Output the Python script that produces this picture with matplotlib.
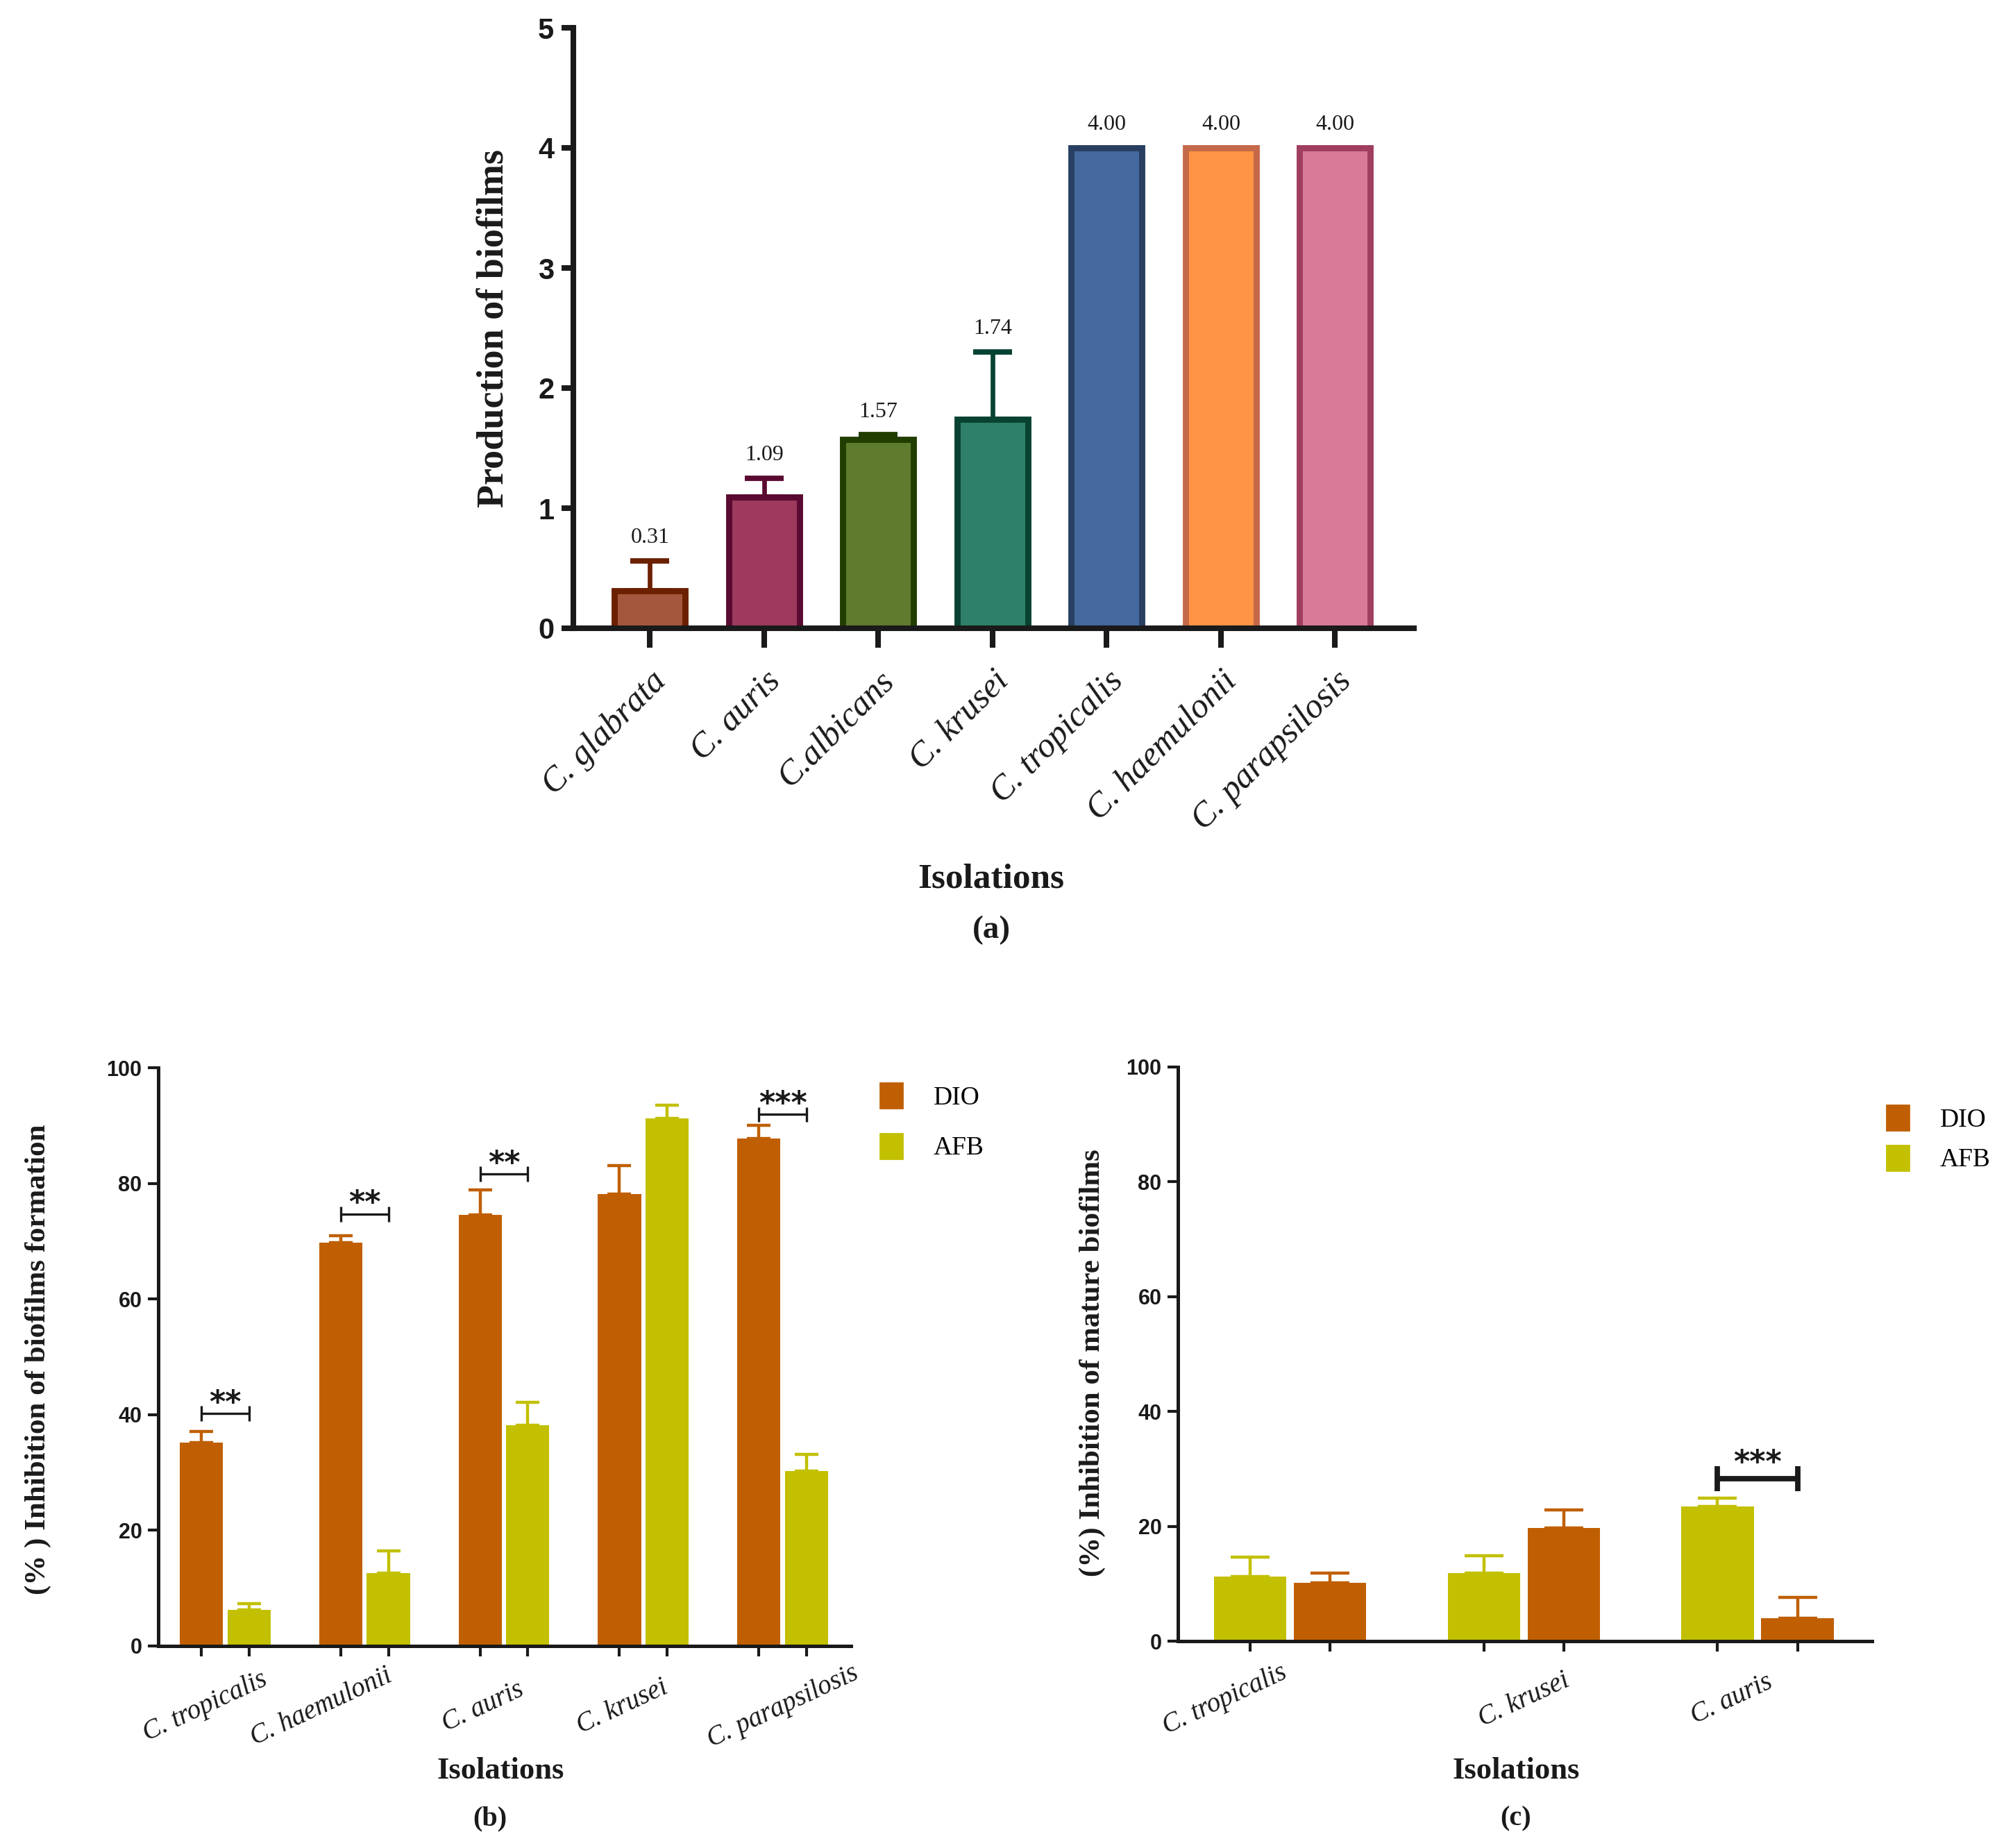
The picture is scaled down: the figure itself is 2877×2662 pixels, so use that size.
import matplotlib
matplotlib.use("Agg")
import matplotlib.pyplot as plt
import numpy as np
from matplotlib.patches import Patch

# ---------------- data ----------------
a_species = ["C. glabrata", "C. auris", "C.albicans", "C. krusei",
             "C. tropicalis", "C. haemulonii", "C. parapsilosis"]
a_values = [0.31, 1.09, 1.57, 1.74, 4.00, 4.00, 4.00]
a_err = [0.25, 0.16, 0.04, 0.56, 0.0, 0.0, 0.0]
a_labels = ["0.31", "1.09", "1.57", "1.74", "4.00", "4.00", "4.00"]
a_face = ["#A5573D", "#9D3A5E", "#5F7B2D", "#2E8068", "#44699E", "#FF9445", "#D97A98"]
a_edge = ["#6B2000", "#5A0A30", "#223D00", "#084232", "#283F62", "#C4694A", "#A03E5F"]

b_species = ["C. tropicalis", "C. haemulonii", "C. auris", "C. krusei", "C. parapsilosis"]
b_dio = [35.2, 69.8, 74.6, 78.2, 87.8]
b_dio_err = [1.9, 1.2, 4.3, 4.9, 2.2]
b_afb = [6.3, 12.6, 38.2, 91.2, 30.2]
b_afb_err = [1.0, 3.9, 3.9, 2.3, 2.9]
b_sig = ["**", "**", "**", "", "***"]
b_sig_y = [40.2, 74.7, 81.6, None, 91.9]

c_species = ["C. tropicalis", "C. krusei", "C. auris"]
c_afb = [11.3, 11.8, 23.5]
c_afb_err = [3.3, 3.1, 1.4]
c_dio = [10.2, 19.7, 4.0]
c_dio_err = [1.7, 3.2, 3.6]
c_sig = ["", "", "***"]
c_sig_y = [None, None, 28.3]

# layout nudges for the rotated category labels (in group units)
b_label_nudge = [-0.145, -0.31, -0.15, -0.15, 0.0]
c_label_nudge = [-0.28, 0.0, -0.11]

DIO_C = "#C05F02"
AFB_C = "#C2C000"
TXT = "#1a1a1a"

SERIF = ["Liberation Serif", "DejaVu Serif"]
NARROW = ["Liberation Sans Narrow", "Liberation Sans", "DejaVu Sans"]

W, H, DPI = 2877, 2662, 200
fig = plt.figure(figsize=(W / DPI, H / DPI), dpi=DPI)


def fx(px):
    return px / W


def fy(py):
    return 1 - py / H


# ---------------- panel (a) ----------------
axa = fig.add_axes([fx(826), fy(905), fx(2037 - 826), (905 - 40) / H])
xa = np.arange(len(a_species))
for i in range(len(a_species)):
    axa.bar(xa[i], a_values[i], width=0.62, color=a_face[i], edgecolor=a_edge[i],
            linewidth=3.2, zorder=2)
    if a_err[i] > 0:
        axa.errorbar(xa[i], a_values[i], yerr=[[0], [a_err[i]]], fmt="none",
                     ecolor=a_edge[i], elinewidth=2.4, capsize=10, capthick=2.8, zorder=3)
    axa.annotate(a_labels[i], (xa[i], a_values[i] + a_err[i]), xytext=(0, 12),
                 textcoords="offset points", ha="center", va="center",
                 fontsize=11.5, family=SERIF, color=TXT)
axa.set_xlim(-0.67, len(a_species) - 1 + 0.69)
axa.set_ylim(0, 5)
axa.spines["top"].set_visible(False)
axa.spines["right"].set_visible(False)
for s in ["left", "bottom"]:
    axa.spines[s].set_linewidth(2.9)
    axa.spines[s].set_color(TXT)
axa.set_xticks(xa)
axa.set_xticklabels(a_species, rotation=45, ha="right", rotation_mode="anchor",
                    fontsize=18, family=SERIF, style="italic", color=TXT)
axa.set_yticks([0, 1, 2, 3, 4, 5])
axa.set_yticklabels(["0", "1", "2", "3", "4", "5"], fontsize=15, family=NARROW,
                    fontweight="bold", color=TXT)
axa.tick_params(axis="x", length=10, width=2.9, color=TXT, pad=9)
axa.tick_params(axis="y", length=6, width=2.9, color=TXT, pad=4)
fig.text(fx(712), fy(473), "Production of biofilms", rotation=90, ha="center", va="center",
         fontsize=19.5, family=SERIF, fontweight="bold", color=TXT)
fig.text(fx(1428), fy(1266), "Isolations", ha="center", va="center",
         fontsize=18.5, family=SERIF, fontweight="bold", color=TXT)
fig.text(fx(1428), fy(1340), "(a)", ha="center", va="center",
         fontsize=17, family=SERIF, fontweight="bold", color=TXT)


def grouped(ax, first, first_err, first_c, second, second_err, second_c,
            species, sig, sig_y, capsize, sig_lw, sig_tick, sig_fs, sig_gap):
    x = np.arange(len(species))
    off = 0.171
    wid = 0.31
    ax.bar(x - off, first, width=wid, color=first_c, zorder=2)
    ax.bar(x + off, second, width=wid, color=second_c, zorder=2)
    ax.errorbar(x - off, first, yerr=[np.zeros(len(x)), first_err], fmt="none",
                ecolor=first_c, elinewidth=1.6, capsize=capsize, capthick=1.6, zorder=1)
    ax.errorbar(x + off, second, yerr=[np.zeros(len(x)), second_err], fmt="none",
                ecolor=second_c, elinewidth=1.6, capsize=capsize, capthick=1.6, zorder=1)
    for i, s in enumerate(sig):
        if not s:
            continue
        y = sig_y[i]
        ax.plot([x[i] - off, x[i] + off], [y, y], color=TXT, lw=sig_lw, solid_capstyle="butt")
        for xx in (x[i] - off, x[i] + off):
            ax.plot([xx, xx], [y - sig_tick, y + sig_tick], color=TXT, lw=sig_lw,
                    solid_capstyle="butt")
        ax.text(x[i], y + sig_gap, s, ha="center", va="baseline", fontsize=sig_fs,
                family=["DejaVu Sans"], fontweight="bold", color=TXT)
    ax.set_xlim(-0.48, len(species) - 1 + 0.49)
    ax.set_ylim(0, 100)
    ax.spines["top"].set_visible(False)
    ax.spines["right"].set_visible(False)
    for sp in ["left", "bottom"]:
        ax.spines[sp].set_linewidth(1.8)
        ax.spines[sp].set_color(TXT)
    ax.set_xticks(np.concatenate([x - off, x + off]))
    ax.set_xticklabels([])
    ax.set_yticks([0, 20, 40, 60, 80, 100])
    ax.set_yticklabels(["0", "20", "40", "60", "80", "100"], fontsize=11,
                       family=NARROW, fontweight="bold", color=TXT)
    ax.tick_params(axis="both", length=5.5, width=1.5, color=TXT, pad=3)
    return x


# ---------------- panel (b) ----------------
axb = fig.add_axes([fx(228), fy(2371), fx(1226 - 228), (2371 - 1538) / H])
xb = grouped(axb, b_dio, b_dio_err, DIO_C, b_afb, b_afb_err, AFB_C,
             b_species, b_sig, b_sig_y, capsize=6, sig_lw=1.2, sig_tick=1.3,
             sig_fs=16, sig_gap=0.3)
for i, s in enumerate(b_species):
    axb.text(xb[i] + b_label_nudge[i], -10.5, s, rotation=25, ha="center", va="center",
             fontsize=14, family=SERIF, style="italic", color=TXT)
axb.legend(handles=[Patch(color=DIO_C, label="DIO"), Patch(color=AFB_C, label="AFB")],
           loc="upper left", bbox_to_anchor=(fx(1268), fy(1560)),
           bbox_transform=fig.transFigure, frameon=False,
           handlelength=0.85, handleheight=1.1, handletextpad=1.2, labelspacing=0.9,
           borderpad=0, borderaxespad=0, prop={"family": SERIF, "size": 13.5})
fig.text(fx(55), fy(1958), "(% ) Inhibition of biofilms formation", rotation=90,
         ha="center", va="center", fontsize=15.5, family=SERIF, fontweight="bold", color=TXT)
fig.text(fx(721), fy(2551), "Isolations", ha="center", va="center",
         fontsize=16, family=SERIF, fontweight="bold", color=TXT)
fig.text(fx(706), fy(2620), "(b)", ha="center", va="center",
         fontsize=14.5, family=SERIF, fontweight="bold", color=TXT)

# ---------------- panel (c) ----------------
axc = fig.add_axes([fx(1697), fy(2364), fx(2697 - 1697), (2364 - 1537) / H])
xc = grouped(axc, c_afb, c_afb_err, AFB_C, c_dio, c_dio_err, DIO_C,
             c_species, c_sig, c_sig_y, capsize=10, sig_lw=2.8, sig_tick=2.2,
             sig_fs=16, sig_gap=1.2)
for i, s in enumerate(c_species):
    axc.text(xc[i] + c_label_nudge[i], -10.2, s, rotation=25, ha="center", va="center",
             fontsize=14, family=SERIF, style="italic", color=TXT)
axc.legend(handles=[Patch(color=DIO_C, label="DIO"), Patch(color=AFB_C, label="AFB")],
           loc="upper left", bbox_to_anchor=(fx(2718), fy(1592)),
           bbox_transform=fig.transFigure, frameon=False,
           handlelength=0.85, handleheight=1.1, handletextpad=1.2, labelspacing=0.5,
           borderpad=0, borderaxespad=0, prop={"family": SERIF, "size": 13.5})
fig.text(fx(1574), fy(1963), "(%) Inhibition of mature biofilms", rotation=90,
         ha="center", va="center", fontsize=15.5, family=SERIF, fontweight="bold", color=TXT)
fig.text(fx(2184), fy(2551), "Isolations", ha="center", va="center",
         fontsize=16, family=SERIF, fontweight="bold", color=TXT)
fig.text(fx(2184), fy(2620), "(c)", ha="center", va="center",
         fontsize=14.5, family=SERIF, fontweight="bold", color=TXT)

fig.savefig("out.png", dpi=DPI)
